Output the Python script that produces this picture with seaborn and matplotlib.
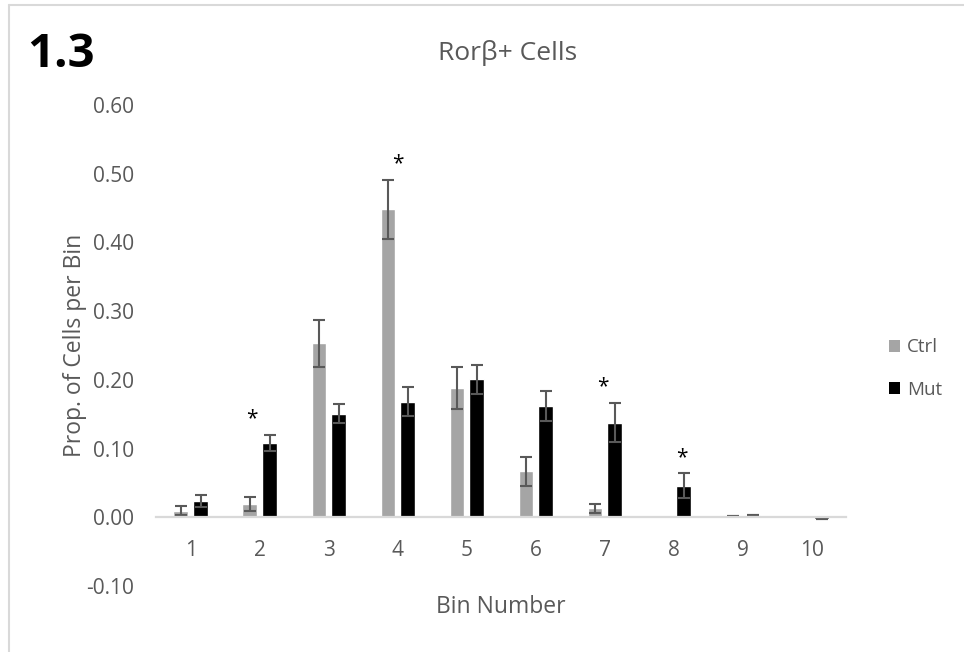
import numpy as np
import pandas as pd
import matplotlib
matplotlib.use("Agg")
import matplotlib.pyplot as plt
from matplotlib.patches import Patch
import seaborn as sns

# Proportion of Rorβ+ cells falling in each bin, mean and SEM per genotype
bins = ["1", "2", "3", "4", "5", "6", "7", "8", "9", "10"]
ctrl = [0.010, 0.020, 0.253, 0.448, 0.188, 0.067, 0.013, 0.000, 0.002, 0.000]
ctrl_err = [0.007, 0.010, 0.034, 0.043, 0.031, 0.021, 0.006, 0.000, 0.000, 0.000]
mut = [0.024, 0.108, 0.151, 0.168, 0.201, 0.162, 0.138, 0.046, 0.003, -0.003]
mut_err = [0.009, 0.012, 0.014, 0.021, 0.021, 0.022, 0.029, 0.018, 0.000, 0.000]
groups = ["Ctrl", "Mut"]
colors = ["#A5A5A5", "#000000"]

# significance marks: (bin, horizontal nudge in category units)
sig_bins = ["2", "4", "7", "8"]
sig_nudge = [-0.12, 0.0, -0.03, 0.12]

df = pd.DataFrame({
    "bin": bins * 2,
    "value": ctrl + mut,
    "err": ctrl_err + mut_err,
    "group": ["Ctrl"] * len(bins) + ["Mut"] * len(bins),
})

sns.set_theme(style="white")
plt.rcParams["font.family"] = ["Open Sans", "DejaVu Sans"]
gray_txt = "#595959"

fig = plt.figure(figsize=(9.64, 6.52), dpi=100)
ax = fig.add_axes([0.162, 0.101, 0.716, 0.738])

sns.barplot(data=df, x="bin", y="value", hue="group", order=bins,
            hue_order=groups, palette=colors, width=0.57, gap=0.25,
            errorbar=None, saturation=1, legend=False, ax=ax, zorder=2)

# error bars placed on the bar centres seaborn computed
tops = {}
for cont, g in zip(ax.containers, groups):
    sub = df[df["group"] == g].set_index("bin").loc[bins]
    xs = np.array([p.get_x() + p.get_width() / 2 for p in cont.patches])
    vals = sub["value"].to_numpy()
    errs = sub["err"].to_numpy()
    keep = ~((vals == 0) & (errs == 0))
    ax.errorbar(xs[keep], vals[keep], yerr=errs[keep], fmt="none",
                ecolor="#595959", elinewidth=1.5, capsize=4, capthick=1.5,
                zorder=3)
    for b, v, e in zip(bins, vals, errs):
        tops.setdefault(b, []).append(v + e)

for b, dx in zip(sig_bins, sig_nudge):
    i = bins.index(b)
    ax.text(i + dx, max(tops[b]) + 0.023, "*", ha="center", va="center",
            fontsize=15, color="black")

ax.set_xlim(-0.5, len(bins) - 0.5)
ax.set_ylim(-0.1, 0.6)
yt = np.round(np.arange(-0.1, 0.601, 0.1), 2)
ax.set_yticks(yt)
ax.set_yticklabels([f"{v:.2f}" for v in yt])

for s in ["top", "right", "left"]:
    ax.spines[s].set_visible(False)
ax.spines["bottom"].set_position(("data", 0))
ax.spines["bottom"].set_color("#D9D9D9")
ax.spines["bottom"].set_linewidth(1.6)
ax.spines["bottom"].set_zorder(4)

ax.tick_params(axis="both", length=0, labelsize=15, labelcolor=gray_txt)
ax.tick_params(axis="x", pad=16)
ax.tick_params(axis="y", pad=16)

ax.set_xlabel("Bin Number", fontsize=16.5, color=gray_txt)
ax.xaxis.set_label_coords(0.5, -0.019)
ax.set_ylabel("Prop. of Cells per Bin", fontsize=16.5, color=gray_txt)
ax.yaxis.set_label_coords(-0.100, 0.5)

fig.text(0.526, 0.918, "Rorβ+ Cells", ha="center", va="center",
         fontsize=19, color=gray_txt)
fig.text(0.028, 0.917, "1.3", ha="left", va="center", fontsize=34,
         fontweight="bold", color="black")

handles = [Patch(facecolor=c, edgecolor="none", label=g)
           for c, g in zip(colors, groups)]
fig.legend(handles=handles, loc="center left", bbox_to_anchor=(0.912, 0.435),
           frameon=False, fontsize=13.5, labelcolor=gray_txt,
           handlelength=0.6, handleheight=0.6, handletextpad=0.4,
           labelspacing=1.3, borderpad=0)

# chart frame lines along the top and left edges
fig.add_artist(plt.Line2D([0.0093, 0.0093], [0, 0.993], color="#D9D9D9",
                          lw=1.5, transform=fig.transFigure))
fig.add_artist(plt.Line2D([0.0093, 1], [0.993, 0.993], color="#D9D9D9",
                          lw=1.5, transform=fig.transFigure))

fig.savefig("out.png", dpi=100)
